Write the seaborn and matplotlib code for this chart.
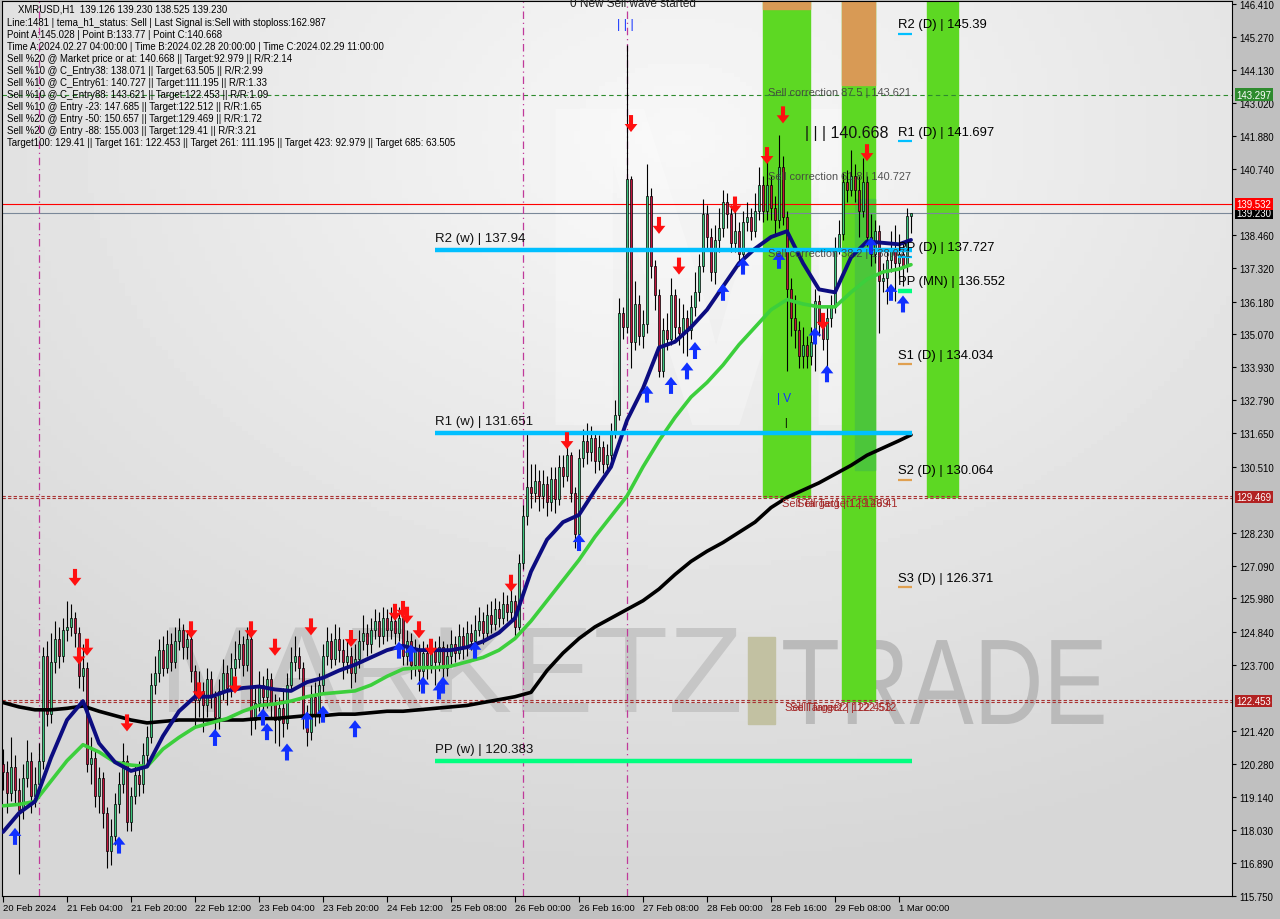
import numpy as np
import pandas as pd
import seaborn as sns
import matplotlib.pyplot as plt
from matplotlib.path import Path
from matplotlib.patches import Rectangle, PathPatch
from matplotlib.textpath import TextPath
from matplotlib.font_manager import FontProperties
import matplotlib.transforms as mtransforms

# XMRUSD H1 candles (one value per hourly bar)
first_open = 120.3
closes = [
    120.0, 119.3, 120.2, 119.4, 118.7, 119.8, 120.4, 119.2, 119.6, 120.4,
    124.0, 122.0, 123.8, 124.6, 124.0, 124.9, 125.0, 125.3, 124.8, 123.3,
    123.6, 120.3, 120.5, 119.2, 119.8, 118.6, 117.3, 117.8, 118.9, 119.6,
    120.4, 118.3, 119.2, 119.9, 119.6, 120.6, 121.2, 123.0, 123.4, 124.2,
    123.6, 124.4, 123.8, 124.5, 124.9, 124.3, 124.6, 123.5, 122.5, 122.8,
    122.3, 123.2, 122.6, 121.9, 122.8, 123.4, 122.9, 123.6, 123.9, 124.4,
    123.7, 124.6, 121.8, 122.4, 123.0, 122.6, 123.2, 122.4, 121.8, 122.2,
    121.7, 123.0, 123.8, 124.0, 123.6, 121.9, 121.4, 122.6, 122.0, 123.0,
    124.0, 124.5, 123.9, 124.6, 124.2, 123.8, 124.0, 123.4, 123.9, 124.5,
    124.8, 124.4, 124.9, 125.2, 124.7, 125.3, 124.9, 125.2, 124.8, 125.3,
    124.0, 124.5, 123.7, 124.2, 123.5, 124.1, 123.7, 124.2, 123.8, 124.3,
    123.6, 124.0, 124.4, 124.1, 124.7, 124.3, 124.8, 124.5, 124.9, 125.2,
    124.8, 125.4, 125.1, 125.6, 125.3, 125.8, 125.5, 125.9, 125.0, 127.2,
    128.8, 129.8, 129.6, 130.0, 129.5, 129.9, 129.3, 130.1, 129.4, 130.5,
    130.2, 130.9, 129.6, 128.2, 130.8, 131.4, 131.0, 131.5, 130.7, 131.2,
    130.6, 130.9, 131.7, 132.3, 135.8, 135.3, 140.4, 134.8, 136.1, 135.0,
    135.4, 139.8, 137.4, 136.4, 133.8, 135.2, 134.9, 136.4, 135.3, 135.1,
    135.6, 135.2, 136.0, 136.5, 137.4, 139.2, 138.4, 137.2, 138.3, 138.7,
    139.6, 139.2, 138.2, 138.6, 137.8, 138.9, 139.1, 138.6, 139.3, 140.2,
    139.3, 140.2, 139.4, 139.0, 140.8, 139.1, 136.6, 135.6, 135.2, 134.3,
    134.7, 134.3, 134.8, 136.2, 135.4, 134.9, 135.6, 136.0, 138.0, 138.5,
    140.3, 140.0, 140.5, 140.0, 139.3, 140.3, 138.4, 137.8, 138.6, 136.9,
    137.0, 137.6, 138.0, 137.5, 137.8, 137.4, 139.126, 139.23,
]
highs = [
    120.8, 120.4, 121.2, 120.6, 119.8, 120.3, 121.1, 120.7, 120.2, 121.0,
    124.3, 124.5, 124.8, 125.2, 125.0, 125.3, 125.9, 125.8, 125.5, 125.0,
    124.4, 123.8, 121.2, 120.8, 120.2, 120.0, 118.8, 118.4, 119.3, 120.0,
    121.0, 120.6, 119.5, 120.3, 120.4, 121.0, 121.6, 123.4, 124.0, 124.6,
    124.7, 124.9, 124.8, 125.0, 125.3, 125.1, 124.9, 124.8, 123.7, 123.5,
    123.1, 123.6, 123.5, 122.8, 123.2, 123.9, 123.7, 124.1, 124.5, 124.9,
    124.7, 125.0, 124.8, 122.9, 123.5, 123.3, 123.6, 123.4, 122.7, 122.6,
    122.9, 123.4, 124.3, 124.7, 124.3, 123.8, 122.3, 123.0, 123.1, 123.4,
    124.4, 125.0, 124.8, 125.1, 125.0, 124.6, 124.5, 124.3, 124.4, 124.9,
    125.4, 125.1, 125.3, 125.6, 125.5, 125.7, 125.6, 125.7, 125.6, 125.7,
    125.5, 124.9, 124.8, 124.6, 124.4, 124.5, 124.4, 124.6, 124.5, 124.7,
    124.5, 124.4, 124.9, 124.7, 125.1, 125.0, 125.2, 125.1, 125.4, 125.7,
    125.5, 125.8, 125.9, 126.0, 125.9, 126.2, 126.1, 126.3, 126.1, 127.5,
    129.2, 131.7, 130.6, 130.6, 130.4, 130.4, 130.2, 130.5, 130.5, 130.9,
    130.9, 131.3, 131.0, 129.8, 131.1, 131.8, 132.0, 131.9, 131.7, 131.6,
    131.4, 131.3, 132.0, 132.8, 136.3, 136.0, 145.0, 140.5, 136.9, 136.4,
    135.9, 140.9, 140.1, 137.6, 136.6, 135.6, 135.8, 137.0, 136.6, 136.3,
    136.1, 135.9, 136.4, 137.2, 137.8, 139.7, 139.5, 138.7, 138.8, 139.4,
    140.0, 139.9, 139.5, 139.5, 138.9, 139.3, 139.6, 139.4, 139.9, 140.8,
    140.5, 141.0, 140.5, 139.8, 141.9, 141.2, 139.3, 137.0, 136.4, 135.5,
    135.3, 135.0, 135.3, 136.6, 136.4, 135.8, 136.0, 136.4, 138.4, 139.0,
    140.6, 140.7, 141.4, 140.9, 140.5, 141.1, 140.5, 139.2, 139.0, 138.8,
    137.5, 138.0, 138.6, 138.8, 138.5, 138.2, 139.4, 139.23,
]
lows = [
    119.4, 118.6, 119.0, 118.9, 116.5, 118.4, 119.5, 118.6, 118.8, 119.2,
    120.1, 121.6, 121.7, 123.4, 123.6, 123.8, 124.5, 124.7, 124.3, 122.9,
    122.8, 120.0, 119.6, 118.8, 118.6, 118.1, 116.7, 116.8, 117.5, 118.6,
    119.3, 118.0, 118.0, 118.9, 119.2, 119.3, 120.3, 121.0, 122.7, 123.1,
    123.3, 123.4, 123.5, 123.6, 124.2, 123.9, 123.9, 123.1, 121.6, 121.9,
    121.4, 121.9, 122.2, 121.2, 121.5, 122.5, 122.3, 122.6, 123.3, 123.6,
    123.3, 123.5, 121.3, 121.5, 122.1, 122.0, 122.2, 121.9, 121.0, 120.9,
    121.2, 121.5, 122.8, 123.5, 123.2, 121.5, 120.9, 121.1, 121.6, 121.7,
    122.7, 123.7, 123.6, 123.7, 123.8, 123.2, 123.4, 122.9, 123.1, 123.6,
    124.2, 124.0, 124.1, 124.6, 124.3, 124.4, 124.5, 124.6, 124.4, 124.5,
    123.7, 123.7, 123.2, 123.3, 122.8, 123.1, 123.2, 123.4, 123.0, 123.5,
    123.2, 123.3, 123.7, 123.8, 123.9, 123.9, 124.0, 124.2, 124.2, 124.7,
    124.4, 124.6, 124.8, 124.9, 125.0, 125.1, 125.2, 125.2, 124.7, 124.9,
    127.0, 128.5, 129.1, 129.3, 129.0, 129.1, 128.8, 129.0, 128.9, 129.2,
    129.8, 130.0, 129.3, 127.7, 128.0, 130.5, 130.6, 130.7, 130.3, 130.4,
    130.3, 130.4, 130.6, 131.5, 132.1, 134.9, 135.1, 133.9, 134.5, 134.7,
    134.6, 135.1, 137.0, 135.9, 133.6, 133.6, 134.5, 134.7, 134.9, 134.7,
    134.4, 134.3, 134.9, 135.7, 136.2, 137.2, 138.0, 136.9, 136.8, 137.9,
    138.4, 138.7, 137.9, 137.9, 137.4, 137.6, 138.6, 138.3, 138.4, 139.0,
    138.9, 139.0, 139.0, 138.5, 138.7, 138.8, 133.8, 135.0, 134.6, 133.9,
    133.9, 133.9, 134.0, 133.8, 135.0, 134.5, 133.7, 135.3, 135.8, 137.8,
    138.3, 139.6, 139.8, 139.6, 138.4, 139.1, 138.1, 137.4, 137.5, 135.1,
    136.5, 136.1, 137.2, 136.2, 137.0, 136.7, 137.2, 138.525,
]

# indicator lines, read every 4th bar
ma_bars = list(range(0, 228, 4)) + [227]
ma_fast = [
    117.95, 118.6, 119.0, 120.5, 121.8, 122.45, 121.0, 120.35, 120.05, 120.2,
    121.25, 122.1, 122.6, 122.6, 122.8, 122.9, 122.95, 122.85, 122.8, 123.1,
    123.25, 123.5, 123.7, 123.95, 124.2, 124.35, 124.2, 124.2, 124.2, 124.3,
    124.5, 124.8, 125.3, 126.9, 128.0, 128.6, 128.85, 129.7, 130.5, 132.1,
    133.2, 134.6, 134.8, 135.3, 135.9, 136.7, 137.5, 138.0, 138.4, 138.6,
    137.5, 136.6, 136.5, 137.7, 138.25, 138.2, 138.15, 138.3,
]
ma_mid = [
    118.85, 118.9, 119.0, 119.7, 120.4, 120.95, 120.7, 120.35, 120.25, 120.2,
    120.8, 121.2, 121.55, 121.7, 121.85, 122.1, 122.3, 122.35, 122.45, 122.6,
    122.7, 122.75, 122.8, 123.0, 123.3, 123.55, 123.6, 123.6, 123.65, 123.8,
    123.95, 124.2, 124.6, 125.2, 125.9, 126.6, 127.3, 128.1, 128.8, 129.5,
    130.5, 131.4, 132.2, 132.9, 133.4, 134.0, 134.7, 135.3, 135.9, 136.25,
    136.1, 136.0, 136.0, 136.5, 136.95, 137.2, 137.3, 137.45,
]
ma_slow = [
    122.4, 122.25, 122.15, 122.15, 122.2, 122.28, 122.1, 121.95, 121.8, 121.7,
    121.75, 121.8, 121.8, 121.8, 121.8, 121.8, 121.85, 121.85, 121.9, 121.95,
    121.95, 122.0, 122.0, 122.05, 122.1, 122.1, 122.15, 122.2, 122.25, 122.3,
    122.4, 122.5, 122.6, 122.75, 123.5, 124.1, 124.6, 125.0, 125.3, 125.6,
    125.9, 126.3, 126.8, 127.25, 127.6, 127.9, 128.25, 128.6, 129.1, 129.45,
    129.7, 129.95, 130.25, 130.55, 130.9, 131.15, 131.4, 131.6,
]

# signal arrows
sell_bars = [18, 19, 21, 31, 47, 49, 58, 62, 68, 77, 87, 98, 100, 101, 104, 107,
             127, 141, 157, 164, 169, 183, 191, 195, 205, 216]
sell_prices = [126.7, 124.0, 124.3, 121.7, 124.9, 122.8, 123.0, 124.9, 124.3, 125.0,
               124.6, 125.5, 125.6, 125.4, 124.9, 124.3, 126.5, 131.4, 142.3, 138.8,
               137.4, 139.5, 141.2, 142.6, 135.5, 141.3]
buy_bars = [3, 29, 53, 65, 66, 71, 76, 80, 88, 99, 102, 105, 109, 110, 118, 144,
            161, 167, 171, 173, 180, 185, 194, 203, 206, 217, 222, 225]
buy_prices = [117.8, 117.5, 121.2, 121.9, 121.4, 120.7, 121.8, 122.0, 121.5, 124.2,
              124.1, 123.0, 122.8, 123.0, 124.2, 127.9, 133.0, 133.3, 133.8, 134.5,
              136.5, 137.4, 137.6, 135.0, 133.7, 138.1, 136.5, 136.1]

# weekly pivots and daily / monthly pivots
weekly_names = ['R2 (w)', 'R1 (w)', 'PP (w)']
weekly_levels = [137.94, 131.651, 120.383]
daily_names = ['R2 (D)', 'R1 (D)', 'PP (D)', 'PP (MN)', 'S1 (D)', 'S2 (D)', 'S3 (D)']
daily_levels = [145.39, 141.697, 137.727, 136.552, 134.034, 130.064, 126.371]
corrections = [('87.5', 143.621), ('61.8', 140.727), ('38.2', 138.071)]
target1 = 129.469
target2 = 122.453
sell_band_start = [190, 209.75, 231]
sell_band_end = [201.75, 218, 238.75]
sell_band_floor = [129.469, 122.453, 129.469]
sell_band_cap = [146.24, 143.62, None]
vline_bars = [9, 130, 156]

y_ticks = [146.41, 145.27, 144.13, 143.02, 141.88, 140.74, 138.46, 137.32, 136.18,
           135.07, 133.93, 132.79, 131.65, 130.51, 128.23, 127.09, 125.98, 124.84,
           123.70, 121.42, 120.28, 119.14, 118.03, 116.89, 115.75]
x_tick_labels = ['20 Feb 2024', '21 Feb 04:00', '21 Feb 20:00', '22 Feb 12:00',
                 '23 Feb 04:00', '23 Feb 20:00', '24 Feb 12:00', '25 Feb 08:00',
                 '26 Feb 00:00', '26 Feb 16:00', '27 Feb 08:00', '28 Feb 00:00',
                 '28 Feb 16:00', '29 Feb 08:00', '1 Mar 00:00']

header = [
    "Line:1481 | tema_h1_status: Sell | Last Signal is:Sell with stoploss:162.987",
    "Point A:145.028 | Point B:133.77 | Point C:140.668",
    "Time A:2024.02.27 04:00:00 | Time B:2024.02.28 20:00:00 | Time C:2024.02.29 11:00:00",
    "Sell %20 @ Market price or at: 140.668 || Target:92.979 || R/R:2.14",
    "Sell %10 @ C_Entry38: 138.071 || Target:63.505 || R/R:2.99",
    "Sell %10 @ C_Entry61: 140.727 || Target:111.195 || R/R:1.33",
    "Sell %10 @ C_Entry88: 143.621 || Target:122.453 || R/R:1.09",
    "Sell %10 @ Entry -23: 147.685 || Target:122.512 || R/R:1.65",
    "Sell %20 @ Entry -50: 150.657 || Target:129.469 || R/R:1.72",
    "Sell %20 @ Entry -88: 155.003 || Target:129.41 || R/R:3.21",
    "Target100: 129.41 || Target 161: 122.453 || Target 261: 111.195 || Target 423: 92.979 || Target 685: 63.505",
]

sns.set_style("white")
plt.rcParams['font.family'] = ['Liberation Sans', 'DejaVu Sans']

n = len(closes)
opens = [first_open] + closes[:-1]
df = pd.DataFrame({'bar': np.arange(n), 'open': opens, 'close': closes,
                   'high': highs, 'low': lows})
df['high'] = df[['high', 'open', 'close']].max(axis=1)
df['low'] = df[['low', 'open', 'close']].min(axis=1)

fig = plt.figure(figsize=(12.8, 9.2), dpi=100, facecolor='#c0c0c0')
ax = fig.add_axes([2 / 1280, 23 / 920, 1230 / 1280, 895 / 920])
ax.set_xlim(-0.25, 307.25)
ax.set_ylim(115.75, 146.513)

# background gradient
gx, gy = np.meshgrid(np.linspace(0, 1, 200), np.linspace(0, 1, 200))
grad = 0.84 + 0.13 * np.clip(1 - np.hypot(gx - 0.55, gy - 0.15) * 1.2, 0, 1)
ax.imshow(grad, extent=[-0.25, 307.25, 115.75, 146.513], aspect='auto',
          cmap='gray', vmin=0, vmax=1, zorder=0, origin='upper')

# watermark
ax.text(0.58, 0.66, 'M', transform=ax.transAxes, fontsize=330, color='white',
        alpha=0.28, ha='center', va='center', zorder=0.5, fontweight='bold')
ax.text(0.128, 0.243, 'MARKETZ', transform=ax.transAxes, fontsize=88,
        color='#c6c6c6', ha='left', va='center', zorder=0.6)
ax.add_patch(Rectangle((0.6065, 0.192), 0.022, 0.097, transform=ax.transAxes,
                       color='#c2c1a2', zorder=0.6))
trade_path = TextPath((0, 0), 'TRADE', size=122, prop=FontProperties(family='Liberation Sans'))
trade = PathPatch(trade_path, color='#bababa', lw=0, zorder=0.6, clip_on=False,
                  transform=mtransforms.Affine2D().scale(0.79, 1.0).translate(781, 195))
ax.add_artist(trade)

# sell zones
for x0, x1, floor, cap in zip(sell_band_start, sell_band_end, sell_band_floor, sell_band_cap):
    ax.add_patch(Rectangle((x0, floor), x1 - x0, 146.6 - floor, color='#5dd823', zorder=1))
    if cap is not None:
        ax.add_patch(Rectangle((x0, cap), x1 - x0, 146.6 - cap, color='#d89a55', zorder=1.1))
ax.add_patch(Rectangle((213, 130.4), 5, 9.3, color='#4cc63a', zorder=1.05))

# reference horizontals
ax.axhline(143.297, color='#2e8b2e', lw=0.8, ls=(0, (4, 3)), zorder=2)
ax.axhline(139.532, color='#ff0000', lw=0.8, zorder=2)
ax.axhline(139.230, color='#7a8899', lw=0.8, zorder=2)
for lvl in (target1, target2):
    ax.axhline(lvl + 0.04, color='#a83232', lw=0.8, ls=(0, (3, 2)), zorder=2)
    ax.axhline(lvl - 0.04, color='#a83232', lw=0.8, ls=(0, (3, 2)), zorder=2)
for vb in vline_bars:
    ax.axvline(vb, color='#c0399a', lw=0.9, ls=(0, (6, 3, 1, 3)), zorder=2)

# weekly pivot lines
wk_colors = ['#00bfff', '#00bfff', '#00ff80']
for name, lvl, col in zip(weekly_names, weekly_levels, wk_colors):
    ax.hlines(lvl, 108, 227.25, color=col, lw=3.2, zorder=6)
    ax.text(108, lvl + 0.22, f'{name} | {lvl:g}', fontsize=9.5, color='#111111',
            ha='left', va='bottom', zorder=9)

# candles
up = df['close'] >= df['open']
ax.vlines(df['bar'], df['low'], df['high'], color='black', lw=0.8, zorder=3)
body = (df['close'] - df['open']).where(lambda s: s.abs() > 0.04, 0.04)
ax.bar(df['bar'], body, bottom=df['open'], width=0.68,
       color=np.where(up, '#3cc47c', '#c0143c'), edgecolor='black',
       linewidth=0.5, zorder=4)

# moving averages
ma_df = pd.DataFrame({'bar': ma_bars, 'fast': ma_fast, 'mid': ma_mid, 'slow': ma_slow})
sns.lineplot(data=ma_df, x='bar', y='slow', color='black', lw=2.6, ax=ax, zorder=5)
sns.lineplot(data=ma_df, x='bar', y='mid', color='#3ccf3c', lw=2.6, ax=ax, zorder=5)
sns.lineplot(data=ma_df, x='bar', y='fast', color='#0c0c80', lw=2.8, ax=ax, zorder=5)

# arrows
up_arrow = Path([(-0.24, -1), (0.24, -1), (0.24, 0.05), (0.75, 0.05), (0, 1),
                 (-0.75, 0.05), (-0.24, 0.05), (-0.24, -1)], closed=True)
down_arrow = Path([(x, -y) for x, y in up_arrow.vertices], closed=True)
ax.scatter(sell_bars, sell_prices, marker=down_arrow, s=150, color='#ff1010',
           edgecolors='none', zorder=7)
ax.scatter(buy_bars, buy_prices, marker=up_arrow, s=150, color='#1030ff',
           edgecolors='none', zorder=7)

# daily pivots
d_colors = ['#00bfff', '#00bfff', '#00bfff', '#00ff80', '#e0a050', '#e0a050', '#e0a050']
for name, lvl, col in zip(daily_names, daily_levels, d_colors):
    w = 3.2 if name == 'PP (MN)' else 1.6
    ax.hlines(lvl, 223.8, 227.3, color=col, lw=w, zorder=6)
    ax.text(223.8, lvl + 0.12, f'{name} | {lvl:g}', fontsize=9.4, color='black',
            ha='left', va='bottom', zorder=9)

# annotations
for lvl_name, lvl in corrections:
    ax.text(191.25, lvl - 0.05, f'Sell correction {lvl_name} | {lvl:g}', fontsize=7.9,
            color='#404040', ha='left', va='top', alpha=0.9, zorder=8)
ax.text(194.75, target1 - 0.05, f'Sell Target1 | {target1:g}', fontsize=7.9,
        color='#a52a2a', ha='left', va='top', zorder=8)
ax.text(198.5, target1 - 0.05, 'Sell Target1 | 129.41', fontsize=7.9,
        color='#a52a2a', ha='left', va='top', zorder=8)
ax.text(195.5, target2 - 0.05, f'Sell Target2 | {target2:g}', fontsize=7.9,
        color='#a52a2a', ha='left', va='top', zorder=8)
ax.text(196.75, target2 - 0.05, 'Sell Target2 | 122.512', fontsize=7.9,
        color='#a52a2a', ha='left', va='top', zorder=8)
ax.text(200.5, 141.75, '| | | 140.668', fontsize=11.5, color='#111111',
        ha='left', va='bottom', zorder=9)
ax.text(141.75, 146.46, '0 New Sell wave started', fontsize=8.5, color='#222222',
        ha='left', va='center', zorder=9)
ax.text(153.5, 145.72, '| | |', fontsize=9, color='#1030ff', ha='left', va='center', zorder=9)
ax.text(193.6, 132.88, '| V', fontsize=8.5, color='#1030ff', ha='left', va='center', zorder=9)
ax.text(195.4, 132.05, '|', fontsize=7.5, color='black', ha='left', va='center', zorder=9)

# axes styling
ax.yaxis.tick_right()
ax.set_yticks(y_ticks)
ax.set_yticklabels([f'{v:.3f}' for v in y_ticks])
ax.set_xticks(np.arange(0, 225, 16))
ax.set_xticklabels(x_tick_labels)
for lbl in ax.get_xticklabels():
    lbl.set_ha('left')
ax.tick_params(axis='y', direction='out', length=3, width=0.8, pad=2,
               labelsize=6.9, colors='black', right=True, left=False)
ax.tick_params(axis='x', direction='out', length=4, width=0.8, pad=1,
               labelsize=6.8, colors='black', bottom=True)
ax.set_xlabel('')
ax.set_ylabel('')
for sp in ax.spines.values():
    sp.set_color('black')
    sp.set_linewidth(0.8)

# right-side price boxes
trans = mtransforms.blended_transform_factory(ax.transAxes, ax.transData)
boxes = [(143.297, '#2e8b2e'), (139.230, '#000000'), (139.532, '#ff0000'),
         (target1, '#b22222'), (target2, '#b22222')]
for price, col in boxes:
    ax.text(1.0035, price, f'{price:.3f}', transform=trans, fontsize=6.9, color='white',
            ha='left', va='center', clip_on=False, zorder=10,
            bbox=dict(boxstyle='square,pad=0.14', fc=col, ec='none'))

# header block
fig.text(18 / 1280, 1 - 10 / 920, 'XMRUSD,H1  139.126 139.230 138.525 139.230',
         fontsize=6.9, color='black', va='center', ha='left')
for i, line in enumerate(header):
    fig.text(7 / 1280, 1 - (23 + 12 * i) / 920, line, fontsize=6.9, color='black',
             va='center', ha='left')

fig.savefig('out.png', dpi=100, facecolor=fig.get_facecolor())
